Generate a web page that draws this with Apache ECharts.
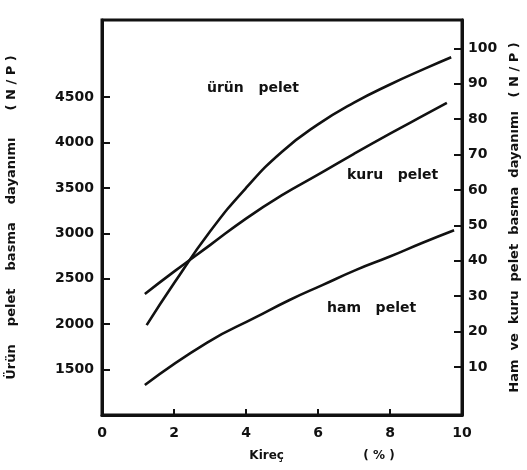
<!DOCTYPE html>
<html>
<head>
<meta charset="utf-8">
<script src="https://cdn.jsdelivr.net/npm/echarts@6/dist/echarts.min.js"></script>
<style>
  html, body { margin: 0; padding: 0; background: #fff; }
  #chart { width: 527px; height: 470px; }
</style>
</head>
<body>
<div id="chart"></div>
<script>
// lime content (%)
const urunX = [1.24, 2, 3, 4, 5, 6, 7, 8, 9, 9.7]
const urunY = [1990, 2450, 3020, 3500, 3900, 4200, 4440, 4640, 4820, 4940]   // left axis

const kuruX = [1.19, 2, 3, 4, 5, 6, 7, 8, 9, 9.58]
const kuruY = [30.6, 36.9, 44.4, 51.9, 58.5, 64.3, 70.2, 75.9, 81.4, 84.6]  // right axis

const hamX = [1.19, 2.91, 4.29, 5.21, 6.12, 7.06, 7.98, 8.89, 9.78]
const hamY = [4.9, 16.8, 24.1, 28.9, 33.1, 37.4, 41.1, 45.0, 48.6]          // right axis

const leftTicks = [1500, 2000, 2500, 3000, 3500, 4000, 4500]
const rightTicks = [10, 20, 30, 40, 50, 60, 70, 80, 90, 100]

const pairs = (xs, ys) => xs.map((x, i) => [x, ys[i]])

const font = 'DejaVu Sans'
const ink = '#111'

const chart = echarts.init(document.getElementById('chart'), null, { renderer: 'canvas' })

const lineStyle = { color: ink, width: 2.6 }
const labelStyle = { color: ink, fontFamily: font, fontWeight: 'bold', fontSize: 14 }

chart.setOption({
  backgroundColor: '#fff',
  animation: false,
  grid: {
    left: 102, right: 65, top: 20, bottom: 55,
    outerBoundsMode: 'none',
    show: true, borderColor: ink, borderWidth: 3,
  },
  xAxis: {
    type: 'value',
    min: 0, max: 10, interval: 2,
    axisLine: { show: true, onZero: false, lineStyle: { color: ink, width: 3 } },
    axisTick: { show: true, inside: true, length: 6, lineStyle: { color: ink, width: 2 } },
    axisLabel: { ...labelStyle, margin: 11 },
    splitLine: { show: false },
    name: 'Kireç                   ( % )',
    nameLocation: 'middle',
    nameGap: 35,
    nameTextStyle: { color: ink, fontFamily: font, fontWeight: 'bold', fontSize: 12, padding: [0, 0, 0, 80] },
  },
  yAxis: [
    {
      type: 'value',
      position: 'left',
      min: 1000, max: 5350,
      axisLine: { show: true, onZero: false, lineStyle: { color: ink, width: 3 } },
      axisTick: { show: true, inside: true, length: 8, customValues: leftTicks, lineStyle: { color: ink, width: 2 } },
      axisLabel: { ...labelStyle, customValues: leftTicks, margin: 8, formatter: v => String(v) },
      splitLine: { show: false },
      name: 'Ürün    pelet    basma    dayanımı      ( N / P )',
      nameLocation: 'middle',
      nameRotate: 90,
      nameGap: 84,
      nameTextStyle: { color: ink, fontFamily: font, fontWeight: 'bold', fontSize: 13 },
    },
    {
      type: 'value',
      position: 'right',
      min: -3.6, max: 108,
      axisLine: { show: true, onZero: false, lineStyle: { color: ink, width: 3 } },
      axisTick: { show: true, inside: true, length: 8, customValues: rightTicks, lineStyle: { color: ink, width: 2 } },
      axisLabel: { ...labelStyle, customValues: rightTicks, margin: 6, formatter: v => String(v) },
      splitLine: { show: false },
      name: 'Ham  ve  kuru  pelet  basma  dayanımı   ( N / P )',
      nameLocation: 'middle',
      nameRotate: 90,
      nameGap: 46,
      nameTextStyle: { color: ink, fontFamily: font, fontWeight: 'bold', fontSize: 13 },
    },
  ],
  series: [
    { name: 'ürün pelet', type: 'line', yAxisIndex: 0, smooth: true, showSymbol: false, lineStyle, data: pairs(urunX, urunY) },
    { name: 'kuru pelet', type: 'line', yAxisIndex: 1, smooth: true, showSymbol: false, lineStyle, data: pairs(kuruX, kuruY) },
    { name: 'ham pelet', type: 'line', yAxisIndex: 1, smooth: true, showSymbol: false, lineStyle, data: pairs(hamX, hamY) },
  ],
  graphic: [
    { type: 'text', left: 207, top: 81, style: { text: 'ürün   pelet', fill: ink, font: `bold 14px "${font}"` } },
    { type: 'text', left: 347, top: 168, style: { text: 'kuru   pelet', fill: ink, font: `bold 14px "${font}"` } },
    { type: 'text', left: 327, top: 301, style: { text: 'ham   pelet', fill: ink, font: `bold 14px "${font}"` } },
  ],
})
</script>
</body>
</html>
